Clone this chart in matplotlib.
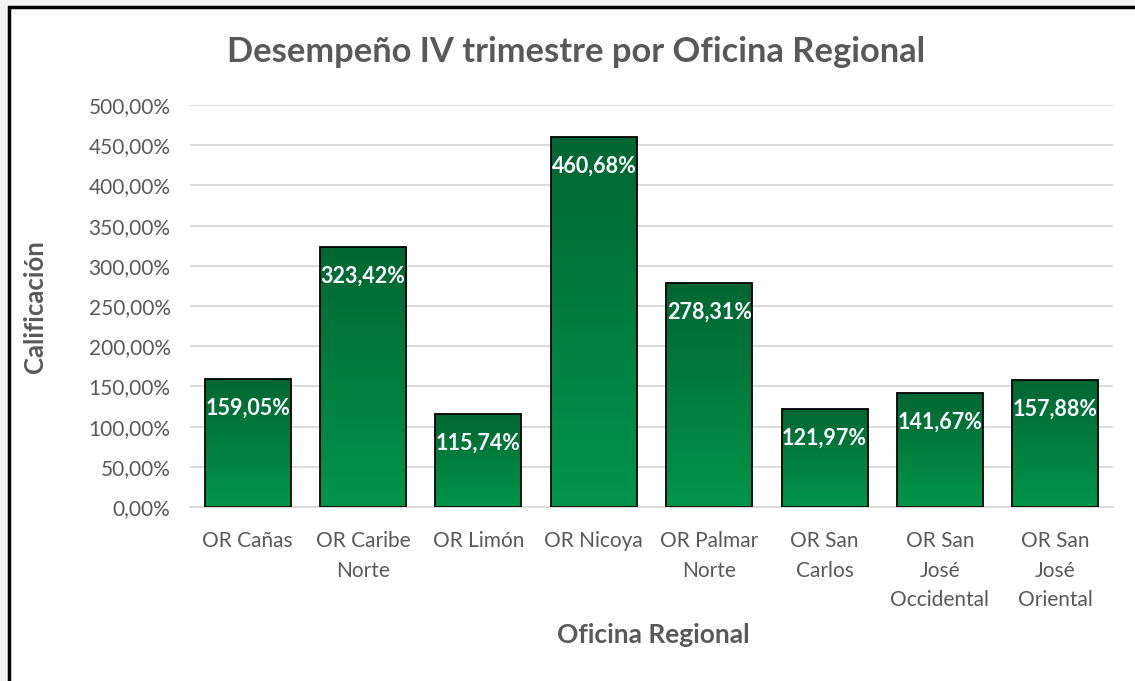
import matplotlib
matplotlib.use("Agg")
import matplotlib.pyplot as plt
import numpy as np
from matplotlib.patches import Rectangle
from matplotlib.colors import LinearSegmentedColormap
from matplotlib.ticker import FuncFormatter

categories = ["OR Cañas", "OR Caribe\nNorte", "OR Limón", "OR Nicoya", "OR Palmar\nNorte",
              "OR San\nCarlos", "OR San\nJosé\nOccidental", "OR San\nJosé\nOriental"]
values = [159.05, 323.42, 115.74, 460.68, 278.31, 121.97, 141.67, 157.88]
yticks = [0, 50, 100, 150, 200, 250, 300, 350, 400, 450, 500]

plt.rcParams['font.family'] = ['Lato', 'DejaVu Sans']
gray = "#595959"

fig = plt.figure(figsize=(11.35, 6.81), dpi=100)
fig.patch.set_facecolor("#f3f3f3")
border = Rectangle((9/1135, -0.01), 1.0, 1 - 7/681 + 0.01, transform=fig.transFigure,
                   facecolor="white", edgecolor="black", linewidth=2.5, zorder=-5)
fig.patches.append(border)

ax = fig.add_axes([190/1135, 1 - 507/681, 923/1135, (507-105)/681])
ax.set_zorder(2)
ax.set_facecolor("none")
x = np.arange(len(categories))
bars = ax.bar(x, values, width=0.745, facecolor="none", edgecolor="black", linewidth=1.3, zorder=3)

cmap = LinearSegmentedColormap.from_list("g", ["#00954a", "#006633"])
grad = np.linspace(0, 1, 256).reshape(-1, 1)
for b in bars:
    x0, w, h = b.get_x(), b.get_width(), b.get_height()
    im = ax.imshow(grad, cmap=cmap, aspect="auto", origin="lower",
                   extent=[x0, x0 + w, 0, h], zorder=2)
    im.set_clip_path(b)

for xi, v in zip(x, values):
    ax.annotate(f"{v:.2f}%".replace(".", ","), (xi, v), xytext=(0, -21), textcoords="offset points",
                ha="center", va="center", color="white", fontsize=15.5, fontweight="bold", zorder=4)

ax.set_xlim(-0.5, len(categories) - 0.5)
ax.set_ylim(0, 500)
ax.set_yticks(yticks)
ax.yaxis.set_major_formatter(FuncFormatter(lambda v, p: f"{v:.2f}%".replace(".", ",")))
ax.set_xticks(x)
ax.set_xticklabels(categories, linespacing=1.62)
ax.tick_params(axis="both", length=0, colors=gray, labelsize=15)
ax.tick_params(axis="x", pad=17)
ax.tick_params(axis="y", pad=14)
ax.grid(axis="y", color="#d9d9d9", linewidth=1.3, zorder=0)
for s in ["top", "right", "left"]:
    ax.spines[s].set_visible(False)
ax.spines["bottom"].set_color("#d9d9d9")
ax.spines["bottom"].set_linewidth(1.3)

fig.text(35/1135, 1 - 307/681, "Calificación", rotation=90, ha="center", va="center",
         fontsize=18.5, fontweight="bold", color=gray)
fig.text(653/1135, 1 - 635/681, "Oficina Regional", ha="center", va="center",
         fontsize=19, fontweight="bold", color=gray)
fig.text(576/1135, 1 - 52/681, "Desempeño IV trimestre por Oficina Regional", ha="center", va="center",
         fontsize=24.8, fontweight="bold", color=gray)

fig.savefig("out.png", dpi=100, facecolor=fig.get_facecolor())
